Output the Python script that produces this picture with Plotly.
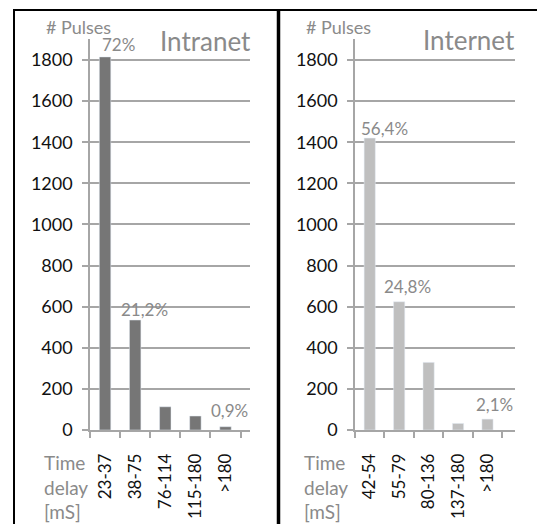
import plotly.graph_objects as go

# ---- data ----
intranet_cats = ["23-37", "38-75", "76-114", "115-180", ">180"]
intranet_vals = [1815, 535, 113, 68, 16]
intranet_pct = ["72%", "21,2%", None, None, "0,9%"]

internet_cats = ["42-54", "55-79", "80-136", "137-180", ">180"]
internet_vals = [1420, 624, 329, 32, 53]
internet_pct = ["56,4%", "24,8%", None, None, "2,1%"]

y_ticks = [0, 200, 400, 600, 800, 1000, 1200, 1400, 1600, 1800]

# ---- layout helpers ----
W, H = 537, 524
FONT = "Lato"
GRID = "#a6a6a6"
TXT_GRAY = "#8a8a8a"

def px_x(p):
    return p / W

def px_y(p):
    return 1 - p / H

fig = go.Figure()
fig.add_trace(go.Bar(x=intranet_cats, y=intranet_vals, marker_color="#767676",
                     width=0.38, xaxis="x", yaxis="y", showlegend=False))
fig.add_trace(go.Bar(x=internet_cats, y=internet_vals, marker_color="#bfbfbf",
                     width=0.38, xaxis="x2", yaxis="y2", showlegend=False))

ydom = [px_y(430), px_y(430 - 1900 * (370 / 1800))]

common_x = dict(type="category", showline=True, linecolor=GRID, linewidth=1.5,
                ticks="outside", tickson="boundaries", ticklen=6, tickcolor=GRID,
                tickwidth=1.5, tickangle=-90, showgrid=False, automargin=False,
                tickfont=dict(family=FONT, size=17, color="#111111"),
                ticklabelstandoff=15, fixedrange=True)
common_y = dict(range=[0, 1900], tickvals=y_ticks, showline=True, linecolor=GRID,
                linewidth=1.5, ticks="outside", ticklen=6, tickcolor=GRID, tickwidth=1.5,
                showgrid=True, gridcolor=GRID, gridwidth=1.5, zeroline=False,
                automargin=False,
                tickfont=dict(family=FONT, size=18, color="#111111"),
                ticklabelstandoff=6, domain=ydom, fixedrange=True)

fig.update_layout(
    width=W, height=H, margin=dict(l=0, r=0, t=0, b=0, autoexpand=False),
    paper_bgcolor="white", plot_bgcolor="white", bargap=0.6,
    xaxis=dict(domain=[px_x(90), px_x(250)], anchor="y", **common_x),
    yaxis=dict(anchor="x", **common_y),
    xaxis2=dict(domain=[px_x(355), px_x(515)], anchor="y2", **common_x),
    yaxis2=dict(anchor="x2", **common_y),
    font=dict(family=FONT),
)

# percentage labels
shifts_intranet = [(13, 0), (9, -2), (0, 0), (0, 0), (4, 4)]
shifts_internet = [(15, -3), (8, 3), (0, 0), (0, 0), (7, 2)]
for cats, vals, pcts, xr, yr, shifts in [
    (intranet_cats, intranet_vals, intranet_pct, "x", "y", shifts_intranet),
    (internet_cats, internet_vals, internet_pct, "x2", "y2", shifts_internet),
]:
    for c, v, p, (dx, dy) in zip(cats, vals, pcts, shifts):
        if p is None:
            continue
        fig.add_annotation(x=c, y=v, xref=xr, yref=yr, text=p, showarrow=False,
                           xanchor="center", yanchor="bottom", xshift=dx, yshift=dy,
                           font=dict(family=FONT, size=17, color=TXT_GRAY))

# titles and axis captions
for title, xr, yc in [("Intranet", 253, 41), ("Internet", 517, 40)]:
    fig.add_annotation(x=px_x(xr), y=px_y(yc), xref="paper", yref="paper", text=title,
                       showarrow=False, xanchor="right", yanchor="middle",
                       font=dict(family=FONT, size=26, color=TXT_GRAY))
for xl in [44, 304]:
    fig.add_annotation(x=px_x(xl), y=px_y(27), xref="paper", yref="paper", text="# Pulses",
                       showarrow=False, xanchor="left", yanchor="middle",
                       font=dict(family=FONT, size=18, color=TXT_GRAY))
    fig.add_annotation(x=px_x(xl - 2), y=px_y(487), xref="paper", yref="paper",
                       text="Time<br>delay<br>[mS]", showarrow=False, align="left",
                       xanchor="left", yanchor="middle",
                       font=dict(family=FONT, size=19, color=TXT_GRAY))

# frame lines
fig.add_shape(type="line", xref="paper", yref="paper", x0=px_x(14), x1=px_x(14),
              y0=px_y(10), y1=0, line=dict(color="black", width=2))
fig.add_shape(type="line", xref="paper", yref="paper", x0=px_x(13), x1=1,
              y0=px_y(10), y1=px_y(10), line=dict(color="black", width=2))
fig.add_shape(type="line", xref="paper", yref="paper", x0=px_x(278.5), x1=px_x(278.5),
              y0=px_y(10), y1=0, line=dict(color="black", width=3.5))

fig.write_html("out.html", config={"displayModeBar": False},
               post_script="document.body.style.margin='0';document.body.style.overflow='hidden';")
